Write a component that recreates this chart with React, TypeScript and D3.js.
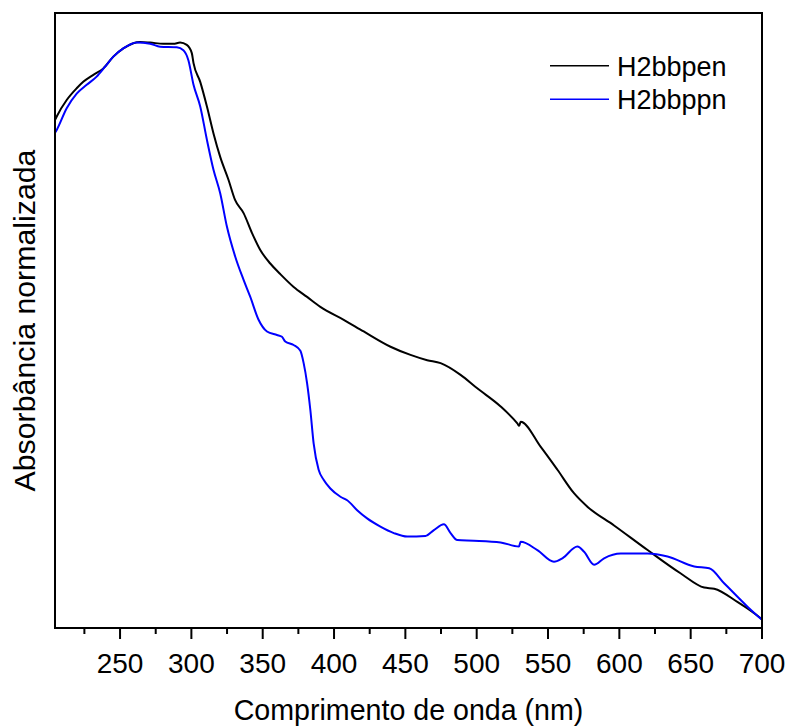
import React from "react";
import * as d3 from "d3";

// Wavelength (nm) and normalized absorbance for each compound
const bbpenWavelength = [204.4, 205.6, 212.6, 219.6, 224.2, 231.3, 238.3, 245.3, 252.3, 259.3, 264.0, 271.1, 280.4, 287.4, 292.1, 296.8, 300.3, 301.5, 306.2, 310.9, 315.5, 320.2, 326.0, 330.7, 336.6, 342.5, 348.3, 355.3, 362.3, 371.7, 381.1, 390.4, 406.8, 420.8, 439.6, 453.6, 465.3, 474.7, 488.7, 500.4, 516.8, 528.5, 529.8, 530.8, 544.9, 556.6, 568.2, 577.6, 596.3, 619.8, 643.1, 659.5, 666.5, 683.0, 692.3, 700.0];
const bbpenAbs = [0.867, 0.873, 0.901, 0.921, 0.932, 0.944, 0.955, 0.975, 0.989, 0.998, 1.0, 0.999, 0.997, 0.997, 0.999, 0.995, 0.981, 0.964, 0.932, 0.89, 0.844, 0.804, 0.765, 0.73, 0.708, 0.674, 0.645, 0.622, 0.604, 0.582, 0.565, 0.548, 0.526, 0.506, 0.48, 0.466, 0.457, 0.452, 0.432, 0.409, 0.378, 0.349, 0.345, 0.352, 0.309, 0.27, 0.23, 0.207, 0.175, 0.133, 0.093, 0.069, 0.067, 0.044, 0.029, 0.015];

const bbppnWavelength = [204.4, 205.6, 212.6, 219.6, 226.6, 233.6, 239.5, 245.3, 252.3, 261.7, 271.1, 278.1, 289.8, 294.4, 297.9, 301.5, 306.2, 310.9, 315.5, 320.2, 324.9, 330.7, 336.6, 341.3, 347.1, 353.0, 360.0, 363.5, 365.8, 371.7, 376.4, 378.7, 381.1, 383.4, 385.7, 389.2, 392.7, 397.4, 404.5, 409.2, 416.2, 423.2, 432.5, 441.9, 451.3, 464.1, 470.0, 477.0, 481.7, 486.4, 498.0, 516.8, 529.6, 530.8, 542.5, 554.2, 560.1, 570.6, 575.3, 582.3, 589.3, 601.0, 619.8, 633.8, 652.5, 663.0, 673.6, 683.0, 690.0, 700.0];
const bbppnAbs = [0.845, 0.85, 0.887, 0.912, 0.927, 0.941, 0.958, 0.975, 0.989, 0.999, 0.997, 0.992, 0.991, 0.986, 0.969, 0.927, 0.89, 0.833, 0.782, 0.742, 0.685, 0.634, 0.594, 0.565, 0.526, 0.506, 0.5, 0.497, 0.489, 0.483, 0.473, 0.452, 0.418, 0.372, 0.315, 0.27, 0.253, 0.238, 0.224, 0.218, 0.201, 0.187, 0.173, 0.162, 0.156, 0.157, 0.167, 0.177, 0.162, 0.15, 0.149, 0.146, 0.139, 0.147, 0.133, 0.113, 0.119, 0.139, 0.13, 0.108, 0.119, 0.127, 0.127, 0.122, 0.105, 0.102, 0.076, 0.053, 0.036, 0.014];

const seriesNames = ["H2bbpen", "H2bbppn"];
const seriesColors = ["#000000", "#0000ff"];
const majorTicks = [250, 300, 350, 400, 450, 500, 550, 600, 650, 700];
const minorTicks = [225, 275, 325, 375, 425, 475, 525, 575, 625, 675];
const xTitle = "Comprimento de onda (nm)";
const yTitle = "Absorbância normalizada";

const W = 787;
const H = 728;
const M = { left: 55, right: 762, top: 13, bottom: 628 };
const FONT = "Liberation Sans, Arial, sans-serif";

export default function App() {
  const x = d3.scaleLinear().domain([204.4, 700]).range([M.left, M.right]);
  const y = d3.scaleLinear().domain([0, 1.0495]).range([M.bottom, M.top]);

  const series = [
    bbpenWavelength.map((w, i) => [w, bbpenAbs[i]] as [number, number]),
    bbppnWavelength.map((w, i) => [w, bbppnAbs[i]] as [number, number]),
  ];
  const line = d3
    .line<[number, number]>()
    .x((d) => x(d[0]))
    .y((d) => y(d[1]))
    .curve(d3.curveMonotoneX);

  return (
    <svg
      width={W}
      height={H}
      style={{ position: "absolute", left: 0, top: 0, background: "#fff" }}
      fontFamily={FONT}
    >
      <rect x={0} y={0} width={W} height={H} fill="#fff" />
      {series.map((s, i) => (
        <path
          key={i}
          d={line(s) || ""}
          fill="none"
          stroke={seriesColors[i]}
          strokeWidth={2}
          strokeLinejoin="round"
        />
      ))}
      <rect
        x={M.left}
        y={M.top}
        width={M.right - M.left}
        height={M.bottom - M.top}
        fill="none"
        stroke="#000"
        strokeWidth={2}
      />
      {majorTicks.map((t) => (
        <g key={"M" + t}>
          <line x1={x(t)} x2={x(t)} y1={M.bottom} y2={M.bottom + 11} stroke="#000" strokeWidth={2} />
          <text x={x(t)} y={673} textAnchor="middle" fontSize={28} fill="#000">
            {t}
          </text>
        </g>
      ))}
      {minorTicks.map((t) => (
        <line key={"m" + t} x1={x(t)} x2={x(t)} y1={M.bottom} y2={M.bottom + 6} stroke="#000" strokeWidth={2} />
      ))}
      <text x={(M.left + M.right) / 2} y={720} textAnchor="middle" fontSize={28.6} fill="#000">
        {xTitle}
      </text>
      <text
        transform={`translate(35, ${(M.top + M.bottom) / 2}) rotate(-90)`}
        textAnchor="middle"
        fontSize={30.3}
        fill="#000"
      >
        {yTitle}
      </text>
      {seriesNames.map((n, i) => (
        <g key={n}>
          <line x1={550} x2={609} y1={65.7 + i * 33.6} y2={65.7 + i * 33.6} stroke={seriesColors[i]} strokeWidth={1.6} />
          <text x={617} y={75.5 + i * 33.6} fontSize={27} fill="#000">
            {n}
          </text>
        </g>
      ))}
    </svg>
  );
}
